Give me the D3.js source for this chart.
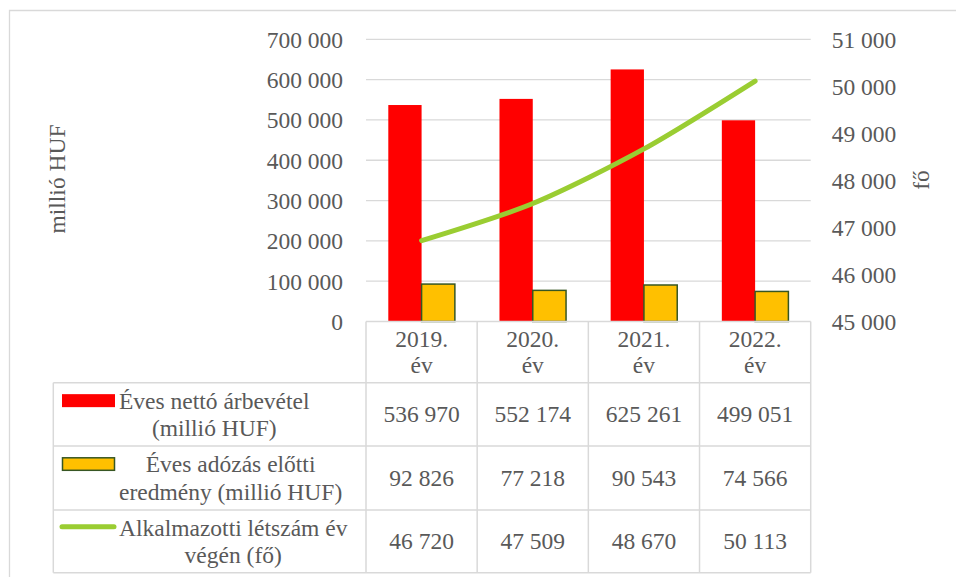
<!DOCTYPE html>
<html><head><meta charset="utf-8">
<script src="https://cdn.jsdelivr.net/npm/d3@7"></script>
<style>html,body{margin:0;padding:0;background:#fff;}svg{display:block;}</style>
</head><body>
<svg id="chart" width="956" height="577"></svg>
<script>
const years = ["2019. év", "2020. év", "2021. év", "2022. év"];
const revenue = [536970, 552174, 625261, 499051];
const profit = [92826, 77218, 90543, 74566];
const staff = [46720, 47509, 48670, 50113];
const leftTicks = [0, 100000, 200000, 300000, 400000, 500000, 600000, 700000];
const rightTicks = [45000, 46000, 47000, 48000, 49000, 50000, 51000];
const seriesNames = [
  ["Éves nettó árbevétel", "(millió HUF)"],
  ["Éves adózás előtti", "eredmény (millió HUF)"],
  ["Alkalmazotti létszám év", "végén (fő)"]
];

const W = 956, H = 577;
const font = "'Liberation Serif','Times New Roman',serif";
const fs = 23.5;
const txt = "#595959";
const grid = "#d9d9d9";
const svg = d3.select("#chart");
const fmt = v => d3.format(",")(v).replace(/,/g, "\u00a0");

const plot = {l: 366, r: 810.7, t: 39.3, b: 321.5};
const x = d3.scaleBand().domain(years).range([plot.l, plot.r]).padding(0);
const sub = d3.scaleBand().domain(["rev", "prof"]).range([0, x.bandwidth()]).paddingInner(0).paddingOuter(0.67);
const yL = d3.scaleLinear().domain([0, 700000]).range([plot.b, plot.t]);
const yR = d3.scaleLinear().domain([45000, 51000]).range([plot.b, plot.t]);

// outer frame
svg.append("path").attr("d", `M9.5,${H} V10.5 H${W}`).attr("fill", "none").attr("stroke", grid).attr("stroke-width", 1.3);

// gridlines
svg.append("g").selectAll("line").data(leftTicks.filter(d => d > 0)).join("line")
  .attr("x1", plot.l).attr("x2", plot.r)
  .attr("y1", d => yL(d)).attr("y2", d => yL(d))
  .attr("stroke", grid).attr("stroke-width", 1.3);

// left axis
const axL = svg.append("g").attr("transform", `translate(${plot.l - 23},0)`)
  .call(d3.axisLeft(yL).tickValues(leftTicks).tickFormat(fmt).tickSize(0).tickPadding(0));
axL.select(".domain").remove();
axL.selectAll("text").attr("font-family", font).attr("font-size", fs).attr("fill", txt).attr("dy", "0.34em");

// right axis
const axR = svg.append("g").attr("transform", `translate(${plot.r + 21},0)`)
  .call(d3.axisRight(yR).tickValues(rightTicks).tickFormat(fmt).tickSize(0).tickPadding(0));
axR.select(".domain").remove();
axR.selectAll("text").attr("font-family", font).attr("font-size", fs).attr("fill", txt).attr("dy", "0.34em");

// axis titles
svg.append("text").attr("transform", "translate(65,179) rotate(-90)").attr("text-anchor", "middle")
  .attr("font-family", font).attr("font-size", fs).attr("fill", txt).text("millió HUF");
svg.append("text").attr("transform", "translate(929,180) rotate(-90)").attr("text-anchor", "middle")
  .attr("font-family", font).attr("font-size", fs).attr("fill", txt).text("fő");

// bars
svg.append("g").selectAll("rect").data(revenue).join("rect")
  .attr("x", (d, i) => x(years[i]) + sub("rev")).attr("width", sub.bandwidth())
  .attr("y", d => yL(d)).attr("height", d => yL(0) - yL(d)).attr("fill", "#ff0000");
svg.append("g").selectAll("rect").data(profit).join("rect")
  .attr("x", (d, i) => x(years[i]) + sub("prof")).attr("width", sub.bandwidth())
  .attr("y", d => yL(d)).attr("height", d => yL(0) - yL(d)).attr("fill", "#ffc000")
  .attr("stroke", "#375623").attr("stroke-width", 1.5);

// line
const line = d3.line().x((d, i) => x(years[i]) + x.bandwidth() / 2).y(d => yR(d)).curve(d3.curveCardinal.tension(0.2));
svg.append("path").datum(staff).attr("d", line).attr("fill", "none")
  .attr("stroke", "#9acd32").attr("stroke-width", 5).attr("stroke-linecap", "round").attr("stroke-linejoin", "round");

// data table
const tbl = {l: 53.3, head: 321.5, rows: [382.7, 446, 510, 572.7]};
const g = svg.append("g");
const lineAttrs = s => s.attr("stroke", grid).attr("stroke-width", 1.5);
lineAttrs(g.append("line").attr("x1", plot.l).attr("x2", plot.r).attr("y1", tbl.head).attr("y2", tbl.head));
tbl.rows.forEach(y => lineAttrs(g.append("line").attr("x1", tbl.l).attr("x2", plot.r).attr("y1", y).attr("y2", y)));
lineAttrs(g.append("line").attr("x1", tbl.l).attr("x2", tbl.l).attr("y1", tbl.rows[0]).attr("y2", tbl.rows[3]));
years.forEach(yr => lineAttrs(g.append("line").attr("x1", x(yr)).attr("x2", x(yr)).attr("y1", tbl.head).attr("y2", tbl.rows[3])));
lineAttrs(g.append("line").attr("x1", plot.r).attr("x2", plot.r).attr("y1", tbl.head).attr("y2", tbl.rows[3]));

// header
years.forEach(yr => {
  const parts = yr.split(" ");
  const cx = x(yr) + x.bandwidth() / 2, cy = (tbl.head + tbl.rows[0]) / 2;
  parts.forEach((p, k) => g.append("text").attr("x", cx).attr("y", cy + (k - 0.5) * 26).attr("dy", "0.34em")
    .attr("text-anchor", "middle").attr("font-family", font).attr("font-size", fs).attr("fill", txt).text(p));
});

// values
const rowsData = [revenue, profit, staff];
rowsData.forEach((arr, r) => {
  const cy = (tbl.rows[r] + tbl.rows[r + 1]) / 2;
  arr.forEach((v, i) => g.append("text").attr("x", x(years[i]) + x.bandwidth() / 2).attr("y", cy).attr("dy", "0.34em")
    .attr("text-anchor", "middle").attr("font-family", font).attr("font-size", fs).attr("fill", txt).text(fmt(v)));
});

// legend labels in table
const textLeft = 119;
seriesNames.forEach((lines, r) => {
  const cy = (tbl.rows[r] + tbl.rows[r + 1]) / 2;
  const ys = [cy - 13.7, cy + 14];
  const tmp = lines.map((t, k) => g.append("text").attr("y", ys[k]).attr("dy", "0.34em")
    .attr("text-anchor", "middle").attr("font-family", font).attr("font-size", fs).attr("fill", txt).text(t));
  const wmax = d3.max(tmp, t => t.node().getComputedTextLength());
  tmp.forEach(t => t.attr("x", textLeft + wmax / 2));
  const ky = ys[0];
  if (r === 0) g.append("rect").attr("x", 62).attr("y", ky - 6.5).attr("width", 53).attr("height", 13).attr("fill", "#ff0000");
  if (r === 1) g.append("rect").attr("x", 62.5).attr("y", ky - 6.5).attr("width", 52).attr("height", 12.5).attr("fill", "#ffc000").attr("stroke", "#375623").attr("stroke-width", 1.5);
  if (r === 2) g.append("line").attr("x1", 62).attr("x2", 114).attr("y1", ky - 1).attr("y2", ky - 1).attr("stroke", "#9acd32").attr("stroke-width", 5).attr("stroke-linecap", "round");
});
</script>
</body></html>
